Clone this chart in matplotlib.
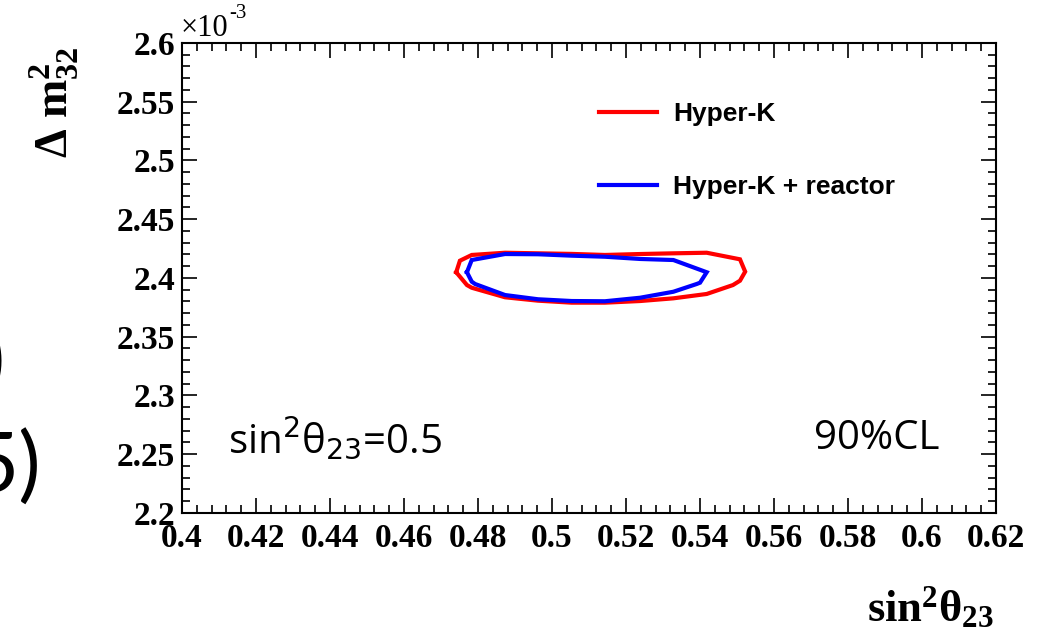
import matplotlib
matplotlib.use("Agg")
import matplotlib.pyplot as plt
from matplotlib.ticker import MultipleLocator, FixedLocator, FixedFormatter

plt.rcParams["mathtext.fontset"] = "custom"
plt.rcParams["mathtext.rm"] = "Liberation Serif:bold"
plt.rcParams["mathtext.it"] = "Liberation Serif:bold"
plt.rcParams["mathtext.bf"] = "Liberation Serif:bold"

# 90% CL contours in (sin^2 theta23, Delta m^2_32 [1e-3 eV^2])
hk_x = [0.4741, 0.4751, 0.4783, 0.4873, 0.4962, 0.5053, 0.5143, 0.5238, 0.5328,
        0.5418, 0.5508, 0.5522, 0.5508, 0.5489, 0.5418, 0.5328, 0.5238, 0.5143,
        0.5053, 0.4962, 0.4873, 0.4783, 0.4770, 0.4741]
hk_y = [2.4049, 2.4147, 2.4196, 2.4215, 2.4210, 2.4205, 2.4196, 2.4204, 2.4210,
        2.4215, 2.4159, 2.4054, 2.3977, 2.3940, 2.3864, 2.3827, 2.3804, 2.3790,
        2.3790, 2.3807, 2.3836, 2.3917, 2.3940, 2.4049]

hkr_x = [0.4770, 0.4783, 0.4873, 0.4962, 0.5053, 0.5143, 0.5238, 0.5328, 0.5418,
         0.5400, 0.5391, 0.5328, 0.5238, 0.5143, 0.5053, 0.4962, 0.4873, 0.4792,
         0.4783, 0.4770]
hkr_y = [2.4049, 2.4153, 2.4204, 2.4202, 2.4190, 2.4181, 2.4162, 2.4153, 2.4049,
         2.3960, 2.3949, 2.3883, 2.3832, 2.3802, 2.3804, 2.3819, 2.3855, 2.3949,
         2.3969, 2.4049]

x_ticks = [0.40, 0.42, 0.44, 0.46, 0.48, 0.50, 0.52, 0.54, 0.56, 0.58, 0.60, 0.62]
x_labels = ["0.4", "0.42", "0.44", "0.46", "0.48", "0.5", "0.52", "0.54", "0.56",
            "0.58", "0.6", "0.62"]
y_ticks = [2.20, 2.25, 2.30, 2.35, 2.40, 2.45, 2.50, 2.55, 2.60]
y_labels = ["2.2", "2.25", "2.3", "2.35", "2.4", "2.45", "2.5", "2.55", "2.6"]

fig = plt.figure(figsize=(10.51, 6.36), dpi=100)
ax = fig.add_axes([0.1732, 0.1934, 0.9477 - 0.1732, 0.9324 - 0.1934])

ax.plot(hk_x, hk_y, color="#ff0000", lw=3.0, label="Hyper-K", solid_joinstyle="miter")
ax.plot(hkr_x, hkr_y, color="#0000ff", lw=3.0, label="Hyper-K + reactor",
        solid_joinstyle="miter")

ax.set_xlim(0.40, 0.62)
ax.set_ylim(2.20, 2.60)

ax.xaxis.set_major_locator(FixedLocator(x_ticks))
ax.xaxis.set_major_formatter(FixedFormatter(x_labels))
ax.xaxis.set_minor_locator(MultipleLocator(0.004))
ax.yaxis.set_major_locator(FixedLocator(y_ticks))
ax.yaxis.set_major_formatter(FixedFormatter(y_labels))
ax.yaxis.set_minor_locator(MultipleLocator(0.01))

for sp in ax.spines.values():
    sp.set_linewidth(1.5)
ax.tick_params(which="both", direction="in", top=True, right=True, width=1.2)
ax.tick_params(which="major", length=11)
ax.tick_params(which="minor", length=6)
ax.tick_params(axis="x", pad=7)
ax.tick_params(axis="y", pad=5)
for lab in ax.get_xticklabels() + ax.get_yticklabels():
    lab.set_fontfamily("Liberation Serif")
    lab.set_fontweight("bold")
    lab.set_fontsize(24)

# exponent marker
fig.text(0.1720, 0.955, "\u00d710", fontfamily="Liberation Serif", fontsize=22,
         ha="left", va="center")
fig.text(0.2185, 0.978, "-3", fontfamily="Liberation Serif", fontsize=15,
         ha="left", va="center")

# axis titles
fig.text(0.052, 0.84, r"$\Delta$ m$^{2}_{32}$", fontfamily="Liberation Serif",
         fontweight="bold", fontsize=33, rotation=90, ha="center", va="center")
fig.text(0.885, 0.045, r"sin$^{2}\theta_{23}$", fontfamily="Liberation Serif",
         fontweight="bold", fontsize=32, ha="center", va="center")

# legend
leg = ax.legend(loc="upper left", bbox_to_anchor=(0.483, 0.925), frameon=False,
                prop={"family": "Liberation Sans", "weight": "bold", "size": 19},
                handlelength=2.2, handletextpad=0.6, labelspacing=1.85)

# annotations
ax.text(0.0565, 0.158, r"sin$^{2}$θ$_{23}$=0.5", transform=ax.transAxes,
        fontfamily="Open Sans", fontsize=29, math_fontfamily="dejavusans",
        ha="left", va="center")
ax.text(0.931, 0.158, "90%CL", transform=ax.transAxes, fontfamily="Open Sans",
        fontsize=29, ha="right", va="center")

# fragments of neighbouring slide text at the left edge
fig.text(-0.017, 0.428, ")", fontfamily="Lato", fontsize=60, ha="left", va="center")
fig.text(-0.028, 0.262, "5)", fontfamily="Lato", fontsize=60, ha="left", va="center")

fig.savefig("out.png", dpi=100)
